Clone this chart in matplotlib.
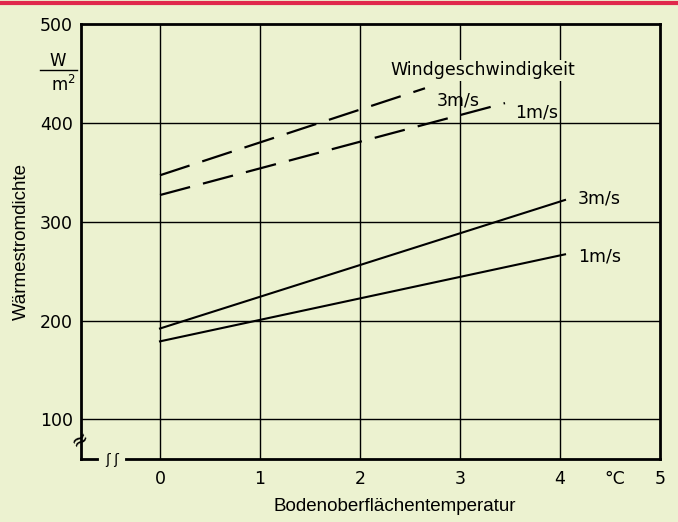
import matplotlib
matplotlib.use("Agg")
import matplotlib.pyplot as plt
from matplotlib.lines import Line2D

# =====================================
# Data
# =====================================

temp_range = [0, 4.05]

solid_3ms = [192, 322]
solid_1ms = [179, 267]

dash_3ms_x = [0, 2.65]
dash_3ms = [347, 435]

dash_1ms_x = [0, 3.45]
dash_1ms = [327, 420]

x_ticks = [0, 1, 2, 3, 4, 5]
y_ticks = [100, 200, 300, 400, 500]

bg = "#ecf2d0"
tick_font = "DejaVu Sans"

# =====================================
# Figure
# =====================================

fig = plt.figure(figsize=(6.78, 5.22), dpi=100, facecolor=bg)
ax = fig.add_axes([81/678, 1 - 459/522, (660 - 81)/678, (459 - 24)/522])
ax.set_facecolor(bg)

ax.set_xlim(-0.79, 5.0)
ax.set_ylim(60, 500)

# red line at top
fig.add_artist(Line2D([0, 1], [1 - 3/522, 1 - 3/522], color="#e0284c", lw=3))

# grid
for gx in [0, 1, 2, 3, 4]:
    ax.axvline(gx, color="black", lw=1.0, zorder=1)
for gy in [100, 200, 300, 400]:
    ax.axhline(gy, color="black", lw=1.0, zorder=1)

for side in ["left", "right", "top", "bottom"]:
    ax.spines[side].set_linewidth(2.0)
    ax.spines[side].set_color("black")

# =====================================
# Lines
# =====================================

ax.plot(temp_range, solid_3ms, color="black", lw=1.5, zorder=3)
ax.plot(temp_range, solid_1ms, color="black", lw=1.5, zorder=3)
ax.plot(dash_3ms_x, dash_3ms, color="black", lw=1.6, dashes=(14, 6), zorder=3)
ax.plot(dash_1ms_x, dash_1ms, color="black", lw=1.6, dashes=(14, 6), zorder=3)

# labels
lab_kw = dict(fontsize=12.5, family=tick_font, color="black", zorder=4)
ax.text(2.3, 453, "Windgeschwindigkeit", va="center", ha="left",
        bbox=dict(facecolor=bg, edgecolor="none", pad=1), **lab_kw)
ax.text(2.77, 423, "3m/s", va="center", ha="left", **lab_kw)
ax.text(3.55, 410, "1m/s", va="center", ha="left", **lab_kw)
ax.text(4.18, 323, "3m/s", va="center", ha="left", **lab_kw)
ax.text(4.18, 265, "1m/s", va="center", ha="left", **lab_kw)

# =====================================
# Ticks
# =====================================

ax.set_xticks(x_ticks)
ax.set_xticklabels([str(t) for t in x_ticks], family=tick_font, fontsize=12.5)
ax.set_yticks(y_ticks)
ax.set_yticklabels([str(t) for t in y_ticks], family=tick_font, fontsize=12.5)
ax.tick_params(length=0, pad=6)
ax.tick_params(axis="x", pad=8)

ax.text(4.55, 49, "°C", transform=ax.transData, ha="center", va="top",
        family=tick_font, fontsize=12.5, clip_on=False)

ax.set_xlabel("Bodenoberflächentemperatur", family="Liberation Sans",
              fontsize=13.5)
ax.xaxis.set_label_coords((395 - 81) / (660 - 81), -(498 - 459) / (459 - 24))
ax.set_ylabel("Wärmestromdichte", family="Liberation Sans",
              fontsize=13.5, labelpad=7)

# unit W/m^2
fig.text(58/678, 1 - 61/522, "W", ha="center", va="center",
         family=tick_font, fontsize=12)
fig.add_artist(Line2D([40/678, 77/678], [1 - 70/522, 1 - 70/522],
                      color="black", lw=1.0))
fig.text(63/678, 1 - 85/522, "m$^2$", ha="center", va="center",
         family=tick_font, fontsize=12)

# axis break marks
ax.text(-0.8, 80, "≈", ha="center", va="center", fontsize=15, rotation=35,
        clip_on=False, zorder=6)
ax.plot([-0.59, -0.37], [60, 60], color=bg, lw=3, clip_on=False, zorder=5)
ax.text(-0.48, 59, "ʃ ʃ", ha="center", va="center", fontsize=10,
        clip_on=False, zorder=6)

fig.savefig("out.png", dpi=100, facecolor=bg)
